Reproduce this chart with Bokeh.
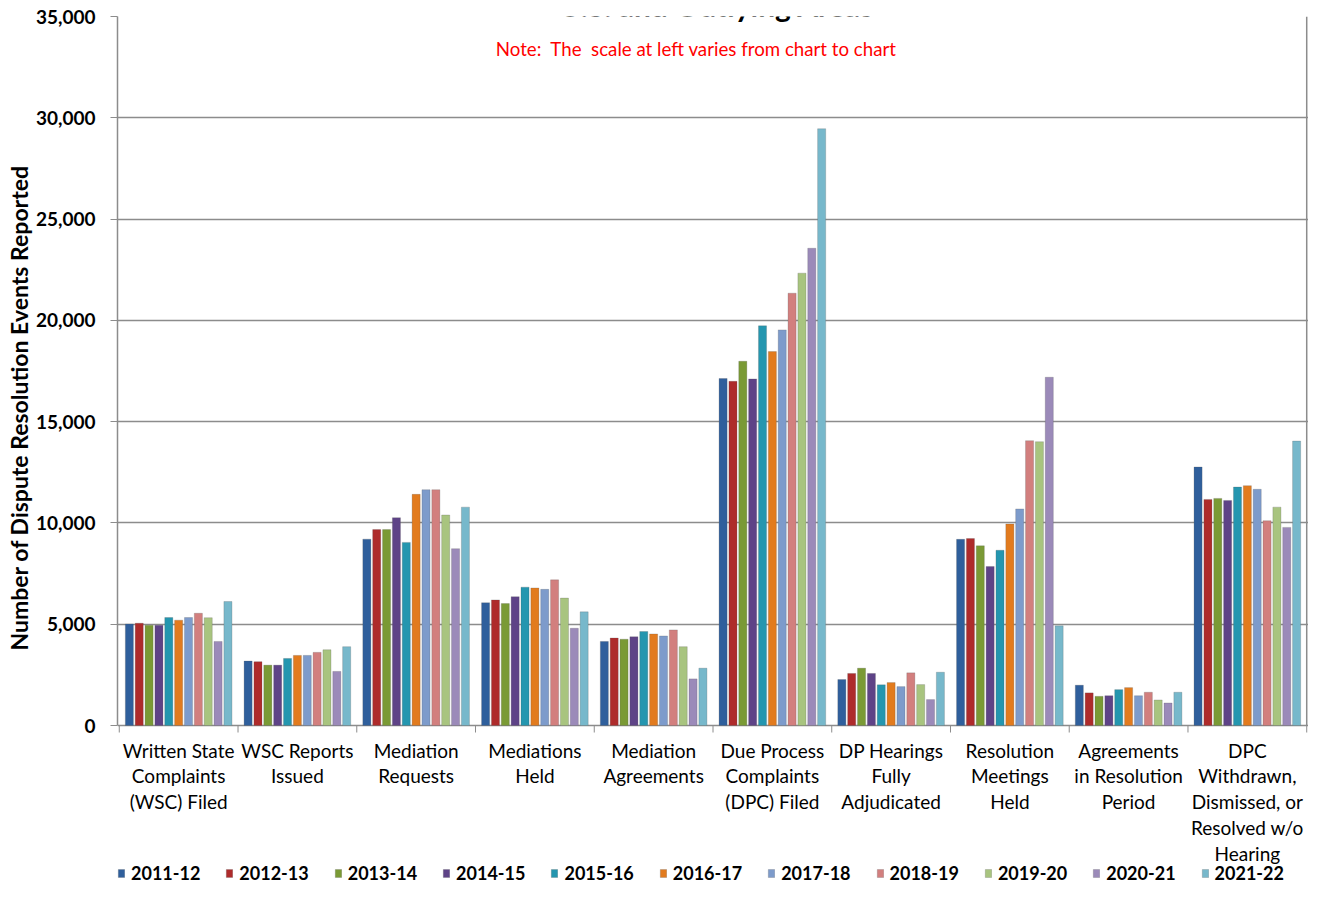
from bokeh.plotting import figure
from bokeh.models import (FactorRange, Range1d, FixedTicker, NumeralTickFormatter,
                          Legend, LegendItem, Label, Title, ColumnDataSource)
from bokeh.core.properties import value
from bokeh.transform import dodge
from bokeh.embed import file_html
from bokeh.resources import INLINE

categories = [
    "Written State\nComplaints\n(WSC) Filed",
    "WSC Reports\nIssued",
    "Mediation\nRequests",
    "Mediations\nHeld",
    "Mediation\nAgreements",
    "Due Process\nComplaints\n(DPC) Filed",
    "DP Hearings\nFully\nAdjudicated",
    "Resolution\nMeetings\nHeld",
    "Agreements\nin Resolution\nPeriod",
    "DPC\nWithdrawn,\nDismissed, or\nResolved w/o\nHearing",
]

years = ["2011-12", "2012-13", "2013-14", "2014-15", "2015-16", "2016-17",
         "2017-18", "2018-19", "2019-20", "2020-21", "2021-22"]

y2011_12 = [5010, 3180, 9200, 6060, 4150, 17130, 2270, 9190, 1990, 12760]
y2012_13 = [5050, 3150, 9670, 6200, 4320, 16990, 2570, 9230, 1610, 11160]
y2013_14 = [4950, 2980, 9670, 6020, 4260, 17980, 2830, 8870, 1440, 11210]
y2014_15 = [4950, 2980, 10260, 6360, 4380, 17110, 2570, 7850, 1470, 11110]
y2015_16 = [5330, 3310, 9040, 6830, 4640, 19730, 2010, 8650, 1770, 11770]
y2016_17 = [5200, 3460, 11410, 6790, 4520, 18460, 2120, 9950, 1870, 11840]
y2017_18 = [5330, 3460, 11640, 6720, 4420, 19530, 1920, 10690, 1470, 11660]
y2018_19 = [5540, 3610, 11640, 7190, 4720, 21340, 2600, 14060, 1640, 10110]
y2019_20 = [5320, 3740, 10390, 6290, 3890, 22330, 2020, 14010, 1260, 10780]
y2020_21 = [4150, 2670, 8730, 4800, 2300, 23560, 1280, 17190, 1110, 9780]
y2021_22 = [6120, 3890, 10780, 5610, 2830, 29460, 2630, 4920, 1640, 14040]

series = [y2011_12, y2012_13, y2013_14, y2014_15, y2015_16, y2016_17,
          y2017_18, y2018_19, y2019_20, y2020_21, y2021_22]

colors = ["#2F5F9C", "#AE2B2B", "#7A9A35", "#5E4387", "#2496AF", "#E27B1E",
          "#7D9BCB", "#D27F7E", "#A8C47F", "#9B8AB9", "#77B8CB"]

y_ticks = [0, 5000, 10000, 15000, 20000, 25000, 30000, 35000]
Y_MAX = 35000

FONT = "Lato"
GRAY = "#8c8c8c"

# layout (pixels): plot area 709 px tall for 0..35,000, then 160 px for labels + legend
H, TOP, PLOT_H = 885, 16, 709
BELOW = H - TOP - PLOT_H
upp = Y_MAX / PLOT_H          # data units per pixel
y_min = -BELOW * upp

data = {"cat": categories}
for yr, s in zip(years, series):
    data[yr] = s
source = ColumnDataSource(data)

p = figure(width=1308, height=H, output_backend="svg", toolbar_location=None,
           x_range=FactorRange(*categories, range_padding=0.003),
           y_range=Range1d(y_min, Y_MAX), x_axis_location=None,
           min_border_left=117, min_border_right=0, min_border_top=TOP, min_border_bottom=0)

p.background_fill_color = "white"
p.border_fill_color = "white"
p.outline_line_color = None

p.xgrid.grid_line_color = None
p.ygrid.ticker = FixedTicker(ticks=y_ticks)
p.ygrid.grid_line_color = GRAY
p.ygrid.grid_line_width = 1.5

pitch = 0.083
renderers = []
for i, (yr, col) in enumerate(zip(years, colors)):
    r = p.vbar(x=dodge("cat", (i - 5) * pitch, range=p.x_range), top=yr, width=0.068,
               source=source, fill_color=col, line_color="#555555", line_width=0.4,
               line_alpha=0.6)
    renderers.append(r)

# category separators below the axis, and the right border of the plot area
n = len(categories)
bounds = list(range(n + 1))
p.segment(x0=bounds, y0=[0] * (n + 1), x1=bounds, y1=[-7 * upp] * (n + 1),
          line_color=GRAY, line_width=1)
p.segment(x0=[n], y0=[0], x1=[n], y1=[Y_MAX], line_color=GRAY, line_width=1.5)

# multi-line category labels
p.text(x="cat", y=-13 * upp, text="cat", source=source,
       text_font=value(FONT), text_font_size="19px", text_color="black",
       text_align="center", text_baseline="top", text_line_height=1.12)

yax = p.yaxis[0]
yax.bounds = (0, Y_MAX)
yax.ticker = FixedTicker(ticks=y_ticks)
yax.formatter = NumeralTickFormatter(format="0,0")
yax.major_label_text_font = FONT
yax.major_label_text_font_style = "bold"
yax.major_label_text_font_size = "19px"
yax.major_label_text_color = "black"
yax.major_label_standoff = 15
yax.major_tick_out = 7
yax.major_tick_in = 0
yax.minor_tick_line_color = None
yax.axis_line_color = GRAY
yax.axis_line_width = 1.5
yax.major_tick_line_color = GRAY

# vertical axis title (starts near the bottom of the value axis, as in the reference)
ytitle = Title(text="Number of Dispute Resolution Events Reported", align="left",
               offset=H - TOP - 634, standoff=0, text_font=FONT, text_font_style="bold",
               text_font_size="23px", text_color="black")
p.add_layout(ytitle, "left")

legend = Legend(items=[LegendItem(label=yr, renderers=[r]) for yr, r in zip(years, renderers)],
                orientation="horizontal", location=(0, 1),
                label_text_font=FONT, label_text_font_style="bold", label_text_font_size="18px",
                label_text_color="black", glyph_width=8, glyph_height=10,
                label_standoff=6, spacing=25, padding=0, margin=0, label_height=18,
                border_line_color=None, background_fill_alpha=0)
p.add_layout(legend)

note = Label(x=4.86, y=Y_MAX - 32 * upp,
             text="Note:\u00a0 The\u00a0 scale at left varies from chart to chart",
             text_font=FONT, text_font_size="18.7px", text_color="#FF0000",
             text_align="center", text_baseline="middle")
p.add_layout(note)

title = Label(x=5.03, y=Y_MAX + 12 * upp, text="U.S. and Outlying Areas",
              text_font=FONT, text_font_size="30px", text_font_style="bold",
              text_color="black", text_align="center", text_baseline="alphabetic")
p.add_layout(title)

open("out.html", "w").write(file_html(p, INLINE))
